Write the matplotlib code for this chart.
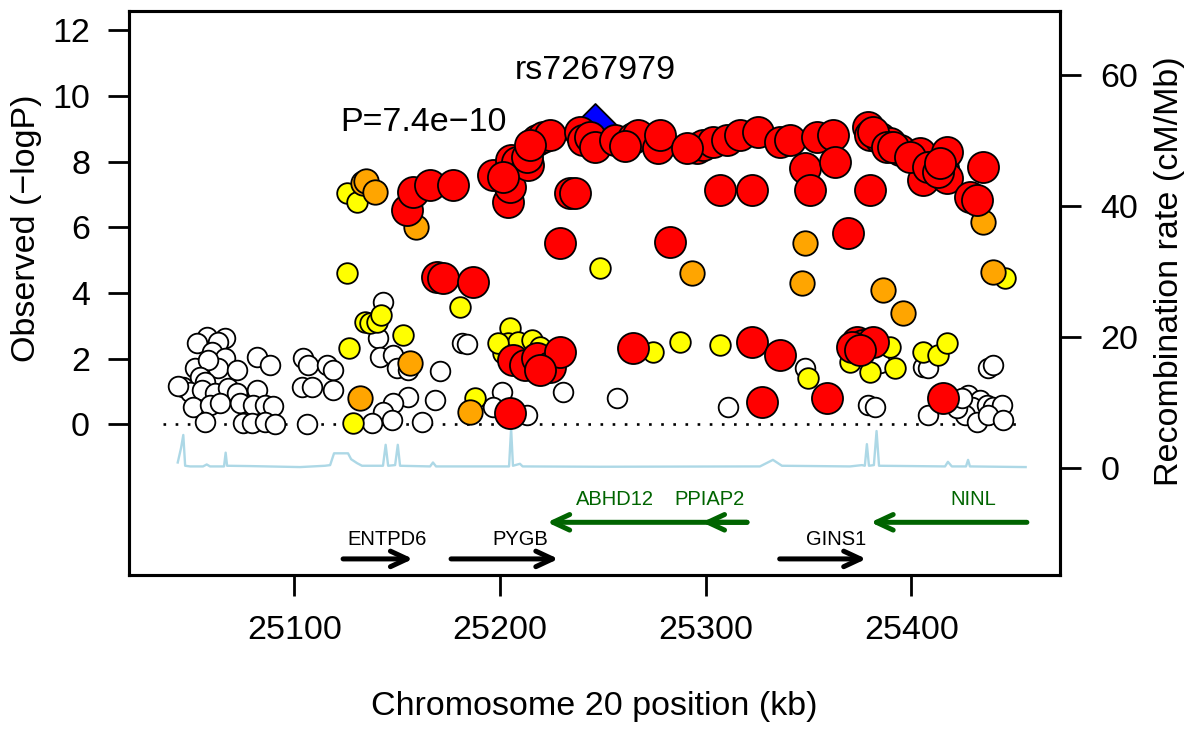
import math
import matplotlib.pyplot as plt

plt.rcParams['font.family'] = ['Liberation Sans', 'DejaVu Sans']

# SNP positions (kb) and -log10 P, grouped by LD bin with the index SNP
white_kb = [25057.4, 25066.3, 25052.5, 25063.0, 25059.8, 25066.3, 25051.7, 25063.0, 25072.0, 25058.2,
            25054.1, 25056.6, 25046.0, 25049.3, 25055.0, 25061.4, 25067.9, 25072.0, 25081.7, 25050.9,
            25059.0, 25063.9, 25073.6, 25080.1, 25085.7, 25089.8, 25056.6, 25075.2, 25079.3, 25085.7,
            25090.6, 25081.7, 25088.2, 25043.4,
            25104.4, 25106.8, 25115.7, 25119.0, 25103.6, 25108.4, 25119.0, 25106.0, 25143.3, 25140.8,
            25141.7, 25148.1, 25149.8, 25155.4, 25155.4, 25148.1, 25143.3, 25147.3, 25137.6, 25161.9,
            25170.8, 25168.4, 25181.4, 25183.8, 25200.8, 25196.7, 25230.8, 25256.7, 25311.0, 25213.0,
            25348.3, 25384.8, 25379.1, 25382.3, 25405.8, 25408.2, 25437.4, 25439.8, 25408.2, 25427.7,
            25433.4, 25429.3, 25436.6, 25439.8, 25443.9, 25426.1, 25431.8, 25437.4, 25444.7, 25422.0,
            25424.5]
white_logp = [2.67, 2.62, 2.47, 2.52, 2.21, 2.01, 1.71, 1.71, 1.65, 1.96,
              1.45, 1.30, 1.15, 0.99, 1.04, 0.94, 1.10, 0.94, 1.04, 0.54,
              0.59, 0.64, 0.64, 0.59, 0.59, 0.56, 0.08, 0.03, 0.03, 0.08,
              0.01, 2.06, 1.81, 1.17,
              2.01, 1.81, 1.81, 1.65, 1.15, 1.15, 1.04, 0.01, 3.73, 2.62,
              2.06, 2.11, 1.71, 1.65, 0.84, 0.64, 0.38, 0.13, 0.03, 0.08,
              1.63, 0.74, 2.47, 2.45, 0.99, 0.54, 0.99, 0.79, 0.54, 0.28,
              1.71, 1.86, 0.59, 0.54, 1.75, 1.71, 1.71, 1.81, 0.28, 0.89,
              0.74, 0.54, 0.59, 0.54, 0.59, 0.28, 0.08, 0.28, 0.13, 0.49,
              0.79]

yellow_kb = [25125.5, 25130.3, 25125.5, 25180.6, 25248.6, 25445.5, 25126.6, 25134.4, 25136.8, 25140.1,
             25142.1, 25153.0, 25128.7, 25187.8, 25204.9, 25204.0, 25208.9, 25215.4, 25201.6, 25274.5,
             25287.5, 25307.0, 25349.9, 25370.2, 25379.9, 25392.0, 25389.6, 25405.8, 25413.1, 25417.2,
             25219.4, 25199.0]
yellow_logp = [7.04, 6.78, 4.61, 3.58, 4.75, 4.45, 2.32, 3.13, 3.08, 3.13,
               3.33, 2.72, 0.03, 0.79, 2.92, 2.47, 2.52, 2.57, 2.16, 2.21,
               2.52, 2.42, 1.40, 1.91, 1.60, 1.71, 2.36, 2.21, 2.11, 2.47,
               2.36, 2.47]

orange_kb = [25133.5, 25134.9, 25139.2, 25159.2, 25293.2, 25348.3, 25346.7, 25386.4, 25395.8, 25439.8,
             25435.0, 25156.2, 25131.9, 25185.4]
orange_logp = [7.34, 7.41, 7.09, 6.02, 4.60, 5.51, 4.29, 4.09, 3.38, 4.65,
               6.17, 1.86, 0.79, 0.38]

red_kb = [25154.6, 25157.8, 25166.0, 25177.3, 25169.2, 25172.4, 25187.0, 25196.7, 25204.0, 25204.9,
          25205.3, 25208.3, 25213.6, 25213.0, 25218.0, 25220.9, 25224.3, 25238.9, 25240.4, 25243.8,
          25246.2, 25255.9, 25264.7, 25267.1, 25276.8, 25277.8, 25295.8, 25298.7, 25303.6, 25310.4,
          25316.7, 25325.4, 25336.1, 25341.0, 25348.3, 25354.1, 25361.9, 25362.9, 25378.9, 25379.9,
          25384.8, 25389.6, 25394.5, 25404.2, 25405.7, 25415.4, 25417.3, 25417.3, 25434.8, 25428.5,
          25431.9, 25350.7, 25379.9, 25307.0, 25322.5, 25234.0, 25236.5, 25229.2, 25282.7, 25369.2,
          25381.4, 25388.2, 25391.1, 25399.3, 25408.1, 25412.9, 25413.9, 25201.5, 25214.6, 25260.8,
          25290.8, 25206.5, 25212.2, 25217.8, 25224.3, 25229.2, 25264.8, 25322.4, 25336.1, 25327.2,
          25358.8, 25373.4, 25376.6, 25381.5, 25371.0, 25375.0, 25415.5, 25204.9, 25219.4]
red_logp = [6.53, 7.09, 7.29, 7.29, 4.50, 4.45, 4.34, 7.59, 6.78, 7.24,
            8.05, 7.99, 7.90, 8.15, 8.66, 8.75, 8.81, 8.90, 8.66, 8.75,
            8.45, 8.66, 8.72, 8.81, 8.42, 8.81, 8.42, 8.51, 8.60, 8.66,
            8.81, 8.90, 8.60, 8.66, 7.81, 8.75, 8.81, 7.99, 9.06, 8.81,
            8.72, 8.57, 8.36, 8.26, 7.44, 7.81, 8.29, 7.50, 7.84, 6.92,
            6.83, 7.14, 7.14, 7.14, 7.14, 7.05, 7.05, 5.52, 5.55, 5.83,
            8.90, 8.45, 8.45, 8.14, 7.84, 7.69, 7.96, 7.53, 8.51, 8.48,
            8.42, 1.96, 1.81, 2.01, 1.75, 2.21, 2.31, 2.52, 2.11, 0.69,
            0.79, 2.52, 2.42, 2.52, 2.36, 2.26, 0.79, 0.34, 1.65]

# index SNP
top_snp = 'rs7267979'
top_kb = 25246.4
top_p = 7.4e-10

# recombination rate (cM/Mb)
rec_kb = [25043.3, 25044.9, 25046.0, 25046.9, 25049.3, 25055.6, 25057.4, 25059.0, 25065.8, 25066.6,
          25067.3, 25078.5, 25102.8, 25114.9, 25117.4, 25119.3, 25126.1, 25127.6, 25130.5, 25132.9,
          25143.1, 25144.4, 25145.6, 25149.0, 25150.3, 25151.4, 25166.0, 25167.4, 25168.9, 25204.4,
          25205.4, 25206.3, 25209.7, 25211.0, 25248.6, 25326.4, 25332.7, 25337.1, 25370.2, 25376.0,
          25377.4, 25378.4, 25379.4, 25381.8, 25383.1, 25384.3, 25416.4, 25417.8, 25419.7, 25426.6,
          25427.6, 25428.5, 25455.6]
rec_rate = [0.8, 3.0, 5.0, 0.3, 0.2, 0.2, 0.5, 0.2, 0.2, 2.3,
            0.3, 0.25, 0.1, 0.3, 0.4, 2.2, 2.2, 1.3, 0.7, 0.3,
            0.3, 3.5, 0.3, 0.4, 3.5, 0.3, 0.2, 0.8, 0.2, 0.2,
            6.0, 0.3, 0.6, 0.2, 0.15, 0.2, 1.2, 0.3, 0.2, 0.4,
            0.3, 3.6, 0.3, 0.4, 5.6, 0.3, 0.2, 0.9, 0.2, 0.2,
            1.2, 0.2, 0.1]

# genes in the region
gene_names = ['ENTPD6', 'PYGB', 'GINS1', 'ABHD12', 'PPIAP2', 'NINL']
gene_start = [25123.7, 25176.2, 25336.0, 25222.9, 25298.2, 25380.2]
gene_end = [25157.7, 25228.4, 25378.1, 25320.1, 25320.1, 25456.2]
gene_strand = ['+', '+', '+', '-', '-', '-']
gene_label_kb = [25145.3, 25209.7, 25363.4, 25256.0, 25302.0, 25430.0]

top_logp = -math.log10(top_p)

fig = plt.figure(figsize=(11.92, 7.29), dpi=100)
ax = fig.add_axes([129 / 1192, 154 / 729, 931 / 1192, 564 / 729])
ax2 = ax.twinx()
ax.set_zorder(ax2.get_zorder() + 1)
ax.patch.set_visible(False)

ax.set_xlim(25019.6, 25472.3)
ax.set_ylim(-4.59, 12.59)
ax2.set_ylim(-16.37, 69.70)

# recombination track
ax2.plot(rec_kb, rec_rate, color='#ADD8E6', lw=1.7)

# significance baseline
ax.plot([25036.2, 25453.6], [0, 0], color='black', lw=1.9, linestyle=(0, (1, 3.6)), zorder=1)

ec = dict(edgecolors='black', linewidths=1.3)
ax.scatter(white_kb, white_logp, s=200, c='white', zorder=3, **ec)
ax.scatter(yellow_kb, yellow_logp, s=220, c='#FFFF00', zorder=4, **ec)
ax.scatter(orange_kb, orange_logp, s=310, c='#FFA500', zorder=5, **ec)
ax.scatter([top_kb], [top_logp], s=480, marker='D', c='#0000FF', zorder=5.5, **ec)
ax.scatter(red_kb, red_logp, s=500, c='#FF0000', zorder=6, **ec)

ax.text(top_kb, 10.79, top_snp, fontsize=24.5, ha='center', va='center')
ax.text(25163.0, 9.2, 'P=7.4e\u221210', fontsize=24.5, ha='center', va='center')

# gene track: forward strand in black below, reverse strand in green above
for name, st, en, strand, lx in zip(gene_names, gene_start, gene_end, gene_strand, gene_label_kb):
    if strand == '+':
        col, y, ly, tail, head = 'black', -4.10, -3.52, st, en
    else:
        col, y, ly, tail, head = '#006400', -2.985, -2.28, en, st
    ax.annotate('', xy=(head, y), xytext=(tail, y),
                arrowprops=dict(arrowstyle='->,head_length=0.6,head_width=0.28',
                                color=col, lw=3.6, shrinkA=0, shrinkB=0,
                                mutation_scale=20))
    ax.text(lx, ly, name, fontsize=14.5, color=col, ha='center', va='center')

ax.set_xticks([25100, 25200, 25300, 25400])
ax.set_yticks(range(0, 13, 2))
ax2.set_yticks([0, 20, 40, 60])
ax.tick_params(axis='both', labelsize=24.5, length=15, width=2, direction='out')
ax.tick_params(axis='y', pad=13)
ax.tick_params(axis='x', pad=14)
ax2.tick_params(axis='y', labelsize=24.5, length=15, width=2, pad=14)
for a in (ax, ax2):
    for sp in a.spines.values():
        sp.set_linewidth(2.2)

ax.text(-0.1096, 0.615, 'Observed (\u2212logP)', rotation=90, transform=ax.transAxes,
        ha='center', va='center', fontsize=24.5)
ax.text(1.118, 0.539, 'Recombination rate (cM/Mb)', rotation=90, transform=ax.transAxes,
        ha='center', va='center', fontsize=24.5)
ax.text(0.5, -0.234, 'Chromosome 20 position (kb)', transform=ax.transAxes,
        ha='center', va='center', fontsize=24.5)

fig.savefig('out.png', dpi=100)
